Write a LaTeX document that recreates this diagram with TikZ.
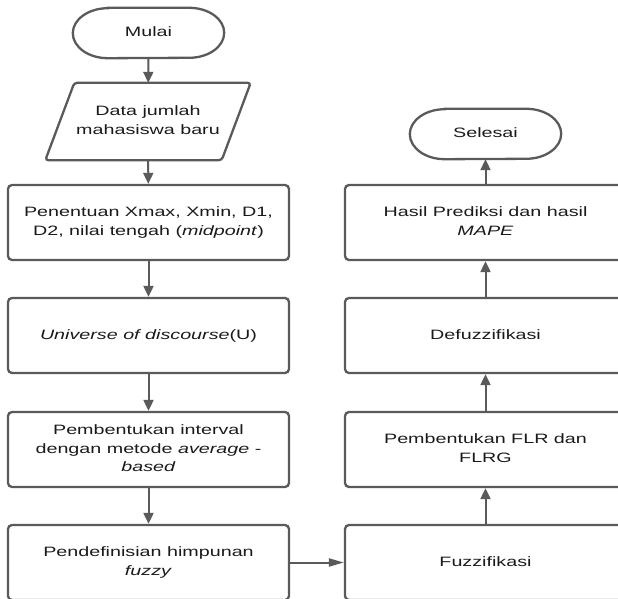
\documentclass[tikz,border=0pt]{standalone}
\usepackage{fontspec}
\setmainfont{Liberation Sans}
\usepackage{graphicx}
\usetikzlibrary{arrows.meta}
\definecolor{edgegray}{HTML}{5A5A5A}
\definecolor{inkblack}{HTML}{1A1A1A}
% wide, centred text block
\newcommand{\boxtext}[1]{\scalebox{1.45}[1]{\begin{tabular}{@{}c@{}}#1\end{tabular}}}

\begin{document}
\begin{tikzpicture}[x=1pt,y=1pt,
  every node/.style={font=\fontsize{13.6}{18.7}\selectfont, text=inkblack, inner sep=0pt},
  procbox/.style={draw=edgegray, line width=2.3pt, rounded corners=4pt,
    minimum width=281pt, minimum height=75pt},
  termnode/.style={minimum width=151pt, minimum height=50pt},
  ionode/.style={minimum width=176pt, minimum height=77pt},
  outline/.style={draw=edgegray, line width=2.3pt},
  flow/.style={draw=edgegray, line width=2pt, -{Triangle[length=11pt,width=10pt]}},
  sideflow/.style={draw=edgegray, line width=2pt, -{Triangle[length=15pt,width=8pt]}},
]
\clip (0,0) rectangle (618,598);

% left column
\node[termnode] (mulai) at (148.5,565) {\boxtext{Mulai}};
\node[ionode] (data) at (148,476.5) {\boxtext{Data jumlah\\mahasiswa baru}};
\node[procbox] (penentuan) at (148.5,375.5)
  {\boxtext{Penentuan Xmax, Xmin, D1,\\D2, nilai tengah (\textit{midpoint})}};
\node[procbox] (universe) at (148.5,262.5)
  {\boxtext{\textit{Universe of discourse}(U)}};
\node[procbox] (interval) at (148.5,148.5)
  {\boxtext{Pembentukan interval\\dengan metode \textit{average} -\\\textit{based}}};
\node[procbox] (himpunan) at (148.5,35.5)
  {\boxtext{Pendefinisian himpunan\\\textit{fuzzy}}};

% right column
\node[termnode] (selesai) at (485.5,464) {\boxtext{Selesai}};
\node[procbox] (hasil) at (485.5,375.5)
  {\boxtext{Hasil Prediksi dan hasil\\\textit{MAPE}}};
\node[procbox] (defuzz) at (485.5,262.5) {\boxtext{Defuzzifikasi}};
\node[procbox] (flr) at (485.5,148.5)
  {\boxtext{Pembentukan FLR dan\\FLRG}};
\node[procbox] (fuzz) at (485.5,35.5) {\boxtext{Fuzzifikasi}};

% terminator outlines (stretched round ends)
\foreach \t in {mulai,selesai}{
  \draw[outline] ([xshift=35pt]\t.north west) -- ([xshift=-35pt]\t.north east)
    arc[start angle=90,end angle=-90,x radius=35pt,y radius=25pt]
    -- ([xshift=35pt]\t.south west)
    arc[start angle=270,end angle=90,x radius=35pt,y radius=25pt] -- cycle;
}

% input parallelogram
\draw[outline, rounded corners=3pt]
  ([xshift=14.5pt]data.north west) -- ([xshift=14.5pt]data.north east)
  -- ([xshift=-14.5pt]data.south east) -- ([xshift=-14.5pt]data.south west) -- cycle;

% connectors
\draw[flow] (mulai) -- (data);
\draw[flow] (data) -- (penentuan);
\draw[flow] (penentuan) -- (universe);
\draw[flow] (universe) -- (interval);
\draw[flow] (interval) -- (himpunan);
\draw[sideflow] (himpunan) -- (fuzz);
\draw[flow] (fuzz) -- (flr);
\draw[flow] (flr) -- (defuzz);
\draw[flow] (defuzz) -- (hasil);
\draw[flow] (hasil) -- (selesai);
\end{tikzpicture}
\end{document}
